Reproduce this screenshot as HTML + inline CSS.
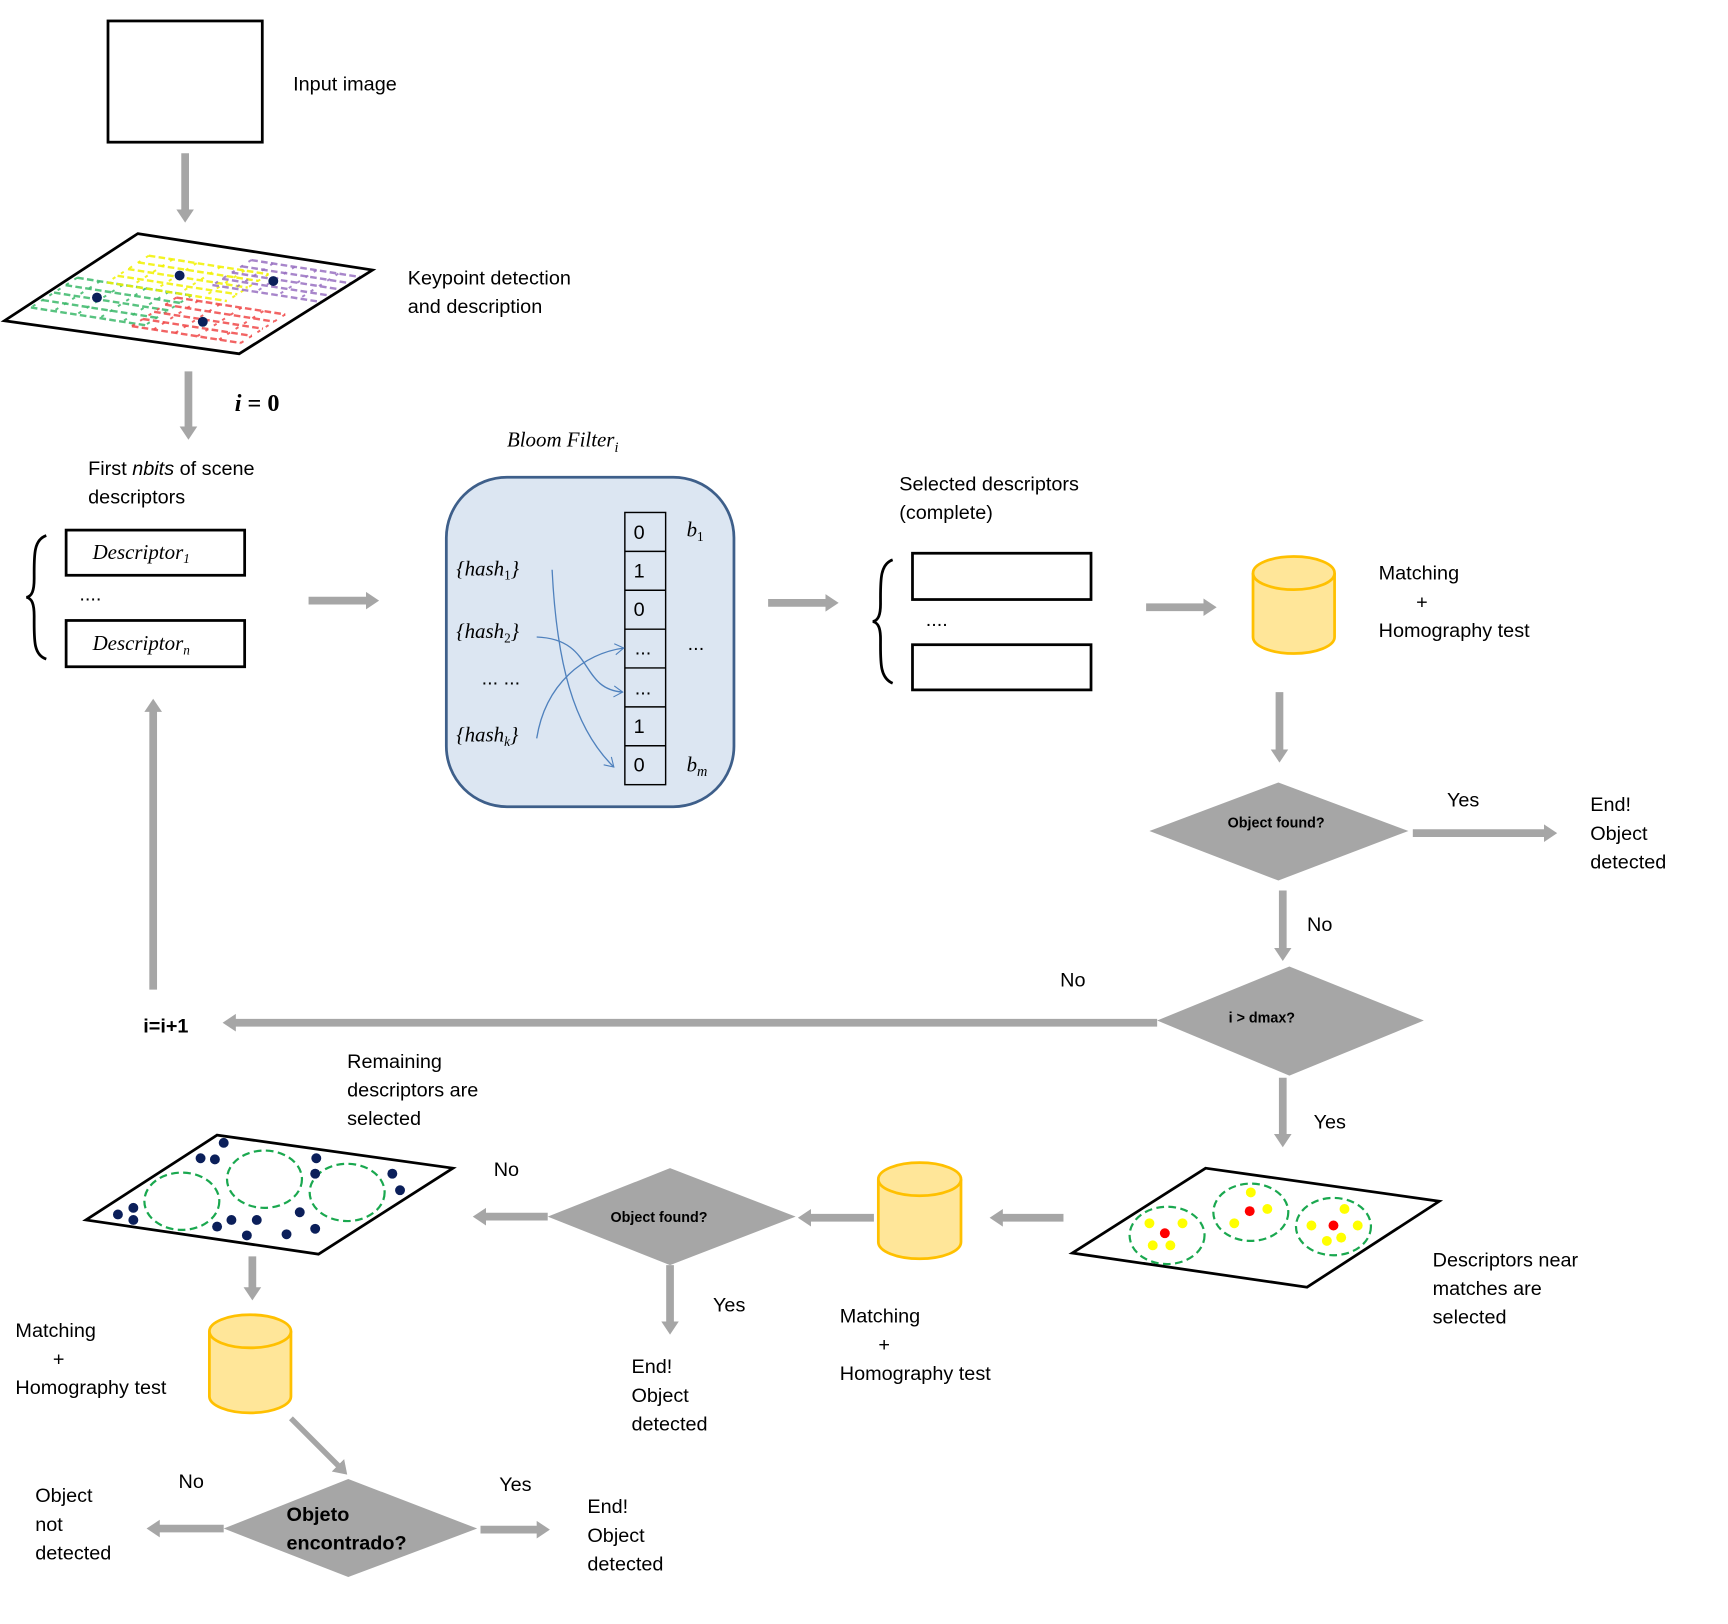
<!DOCTYPE html>
<html><head><meta charset="utf-8"><style>
html,body{margin:0;padding:0;background:#fff;}
svg{display:block;}
text{font-family:"Liberation Sans",sans-serif;font-size:18px;fill:#000;}
.m{font-family:"Liberation Serif",serif;font-style:italic;font-size:19px;}
.d{font-weight:bold;font-size:13px;}
</style></head><body>
<svg id="s" width="1728" height="1624" viewBox="0 0 1568 1473.6" xmlns="http://www.w3.org/2000/svg">
<defs>
<marker id="ah" markerUnits="userSpaceOnUse" markerWidth="18" markerHeight="18" refX="2" refY="9" orient="auto">
<path d="M0,1 L12,9 L0,17 Z" fill="#a6a6a6"/>
</marker>
<marker id="bh" markerUnits="userSpaceOnUse" markerWidth="12" markerHeight="12" refX="10" refY="6" orient="auto">
<path d="M2,1 L10,6 L2,11" fill="none" stroke="#4f81bd" stroke-width="1"/>
</marker>
</defs>
<g stroke="#a6a6a6" stroke-width="7" fill="none" marker-end="url(#ah)">
<line x1="168" y1="139" x2="168" y2="192"/>
<line x1="171" y1="337" x2="171" y2="389"/>
<line x1="280" y1="545" x2="334" y2="545"/>
<line x1="697" y1="547" x2="751" y2="547"/>
<line x1="1040" y1="551" x2="1094" y2="551"/>
<line x1="1161" y1="628" x2="1161" y2="682"/>
<line x1="1282" y1="756" x2="1403" y2="756"/>
<line x1="1164" y1="808" x2="1164" y2="862"/>
<line x1="1050" y1="928" x2="212" y2="928"/>
<line x1="139" y1="898" x2="139" y2="644"/>
<line x1="1164" y1="978" x2="1164" y2="1031"/>
<line x1="965" y1="1105" x2="908" y2="1105"/>
<line x1="793" y1="1105" x2="734" y2="1105"/>
<line x1="608" y1="1148" x2="608" y2="1201"/>
<line x1="497" y1="1104" x2="439" y2="1104"/>
<line x1="229" y1="1140" x2="229" y2="1170"/>
<line x1="264" y1="1287" x2="308" y2="1331" stroke-width="5"/>
<line x1="203" y1="1387" x2="143" y2="1387"/>
<line x1="436" y1="1388" x2="489" y2="1388"/>
</g>
<rect x="98" y="19" width="140" height="110" fill="none" stroke="#000" stroke-width="2.5"/>
<text x="266" y="82">Input image</text>
<g id="grid"></g>
<polygon points="125,212 338,245 217,321 4,291" fill="none" stroke="#000" stroke-width="2.5"/>
<g fill="#0b1f5a"><circle cx="88" cy="270" r="4.5"/><circle cx="163" cy="250" r="4.5"/><circle cx="248" cy="255" r="4.5"/><circle cx="184" cy="292" r="4.5"/></g>
<text x="370" y="258">Keypoint detection</text>
<text x="370" y="284">and description</text>
<text x="213" y="373" style="font-family:'Liberation Serif',serif;font-weight:bold;font-size:22px"><tspan font-style="italic">i</tspan> = 0</text>
<text x="80" y="431">First <tspan font-style="italic">nbits</tspan> of scene</text>
<text x="80" y="457">descriptors</text>
<path d="M42,486 C30,490 31,505 31,525 C31,536 29,541 24,542 C29,543 31,548 31,559 C31,580 30,594 42,598" fill="none" stroke="#000" stroke-width="2.5"/>
<rect x="60" y="481" width="162" height="41" fill="none" stroke="#000" stroke-width="2.5"/>
<rect x="60" y="563" width="162" height="42" fill="none" stroke="#000" stroke-width="2.5"/>
<text class="m" x="84" y="507">Descriptor<tspan font-size="12" dy="4">1</tspan></text>
<text class="m" x="84" y="590">Descriptor<tspan font-size="12" dy="4">n</tspan></text>
<text x="72" y="545">....</text>
<text class="m" x="460" y="405">Bloom Filter<tspan font-size="13" dy="5">i</tspan></text>
<rect x="405" y="433" width="261" height="299" rx="55" fill="#dce6f2" stroke="#3e5f8a" stroke-width="2.5"/>
<g fill="none" stroke="#000" stroke-width="1.3">
<rect x="567" y="465" width="37" height="247"/>
<line x1="567" y1="500.3" x2="604" y2="500.3"/><line x1="567" y1="535.6" x2="604" y2="535.6"/>
<line x1="567" y1="570.9" x2="604" y2="570.9"/><line x1="567" y1="606.1" x2="604" y2="606.1"/>
<line x1="567" y1="641.4" x2="604" y2="641.4"/><line x1="567" y1="676.7" x2="604" y2="676.7"/>
</g>
<g font-size="17"><text x="575" y="489">0</text><text x="575" y="524">1</text><text x="575" y="559">0</text><text x="576" y="594">...</text><text x="576" y="630">...</text><text x="575" y="665">1</text><text x="575" y="700">0</text></g>
<text class="m" x="623" y="487">b<tspan font-size="12" dy="4" font-style="normal">1</tspan></text>
<text x="624" y="590">...</text>
<text class="m" x="623" y="700">b<tspan font-size="13" dy="4">m</tspan></text>
<text class="m" x="414" y="522">{hash<tspan font-size="12" dy="4" font-style="normal">1</tspan><tspan dy="-4">}</tspan></text>
<text class="m" x="414" y="579">{hash<tspan font-size="12" dy="4" font-style="normal">2</tspan><tspan dy="-4">}</tspan></text>
<text x="437" y="621">... ...</text>
<text class="m" x="414" y="673">{hash<tspan font-size="12" dy="4">k</tspan><tspan dy="-4">}</tspan></text>
<g fill="none" stroke="#4f81bd" stroke-width="1.2" marker-end="url(#bh)">
<path d="M501,517 C505,600 520,660 557,696"/>
<path d="M487,578 C540,580 525,625 565,628"/>
<path d="M487,670 C495,620 530,593 566,588"/>
</g>
<text x="816" y="445">Selected descriptors</text>
<text x="816" y="471">(complete)</text>
<path d="M810,508 C798,512 799,528 799,548 C799,558 797,563 792,564 C797,565 799,570 799,580 C799,600 798,615 810,620" fill="none" stroke="#000" stroke-width="2.5"/>
<rect x="828" y="502" width="162" height="42" fill="none" stroke="#000" stroke-width="2.5"/>
<rect x="828" y="585" width="162" height="41" fill="none" stroke="#000" stroke-width="2.5"/>
<text x="840" y="568">....</text>
<g fill="#ffe699" stroke="#ffc000" stroke-width="2.5">
<path d="M1137,520 L1137,578 A37,15 0 0 0 1211,578 L1211,520"/><ellipse cx="1174" cy="520" rx="37" ry="15"/>
<path d="M797,1070 L797,1127 A37,15 0 0 0 872,1127 L872,1070"/><ellipse cx="834.5" cy="1070" rx="37.5" ry="15"/>
<path d="M190,1208 L190,1267 A37,15 0 0 0 264,1267 L264,1208"/><ellipse cx="227" cy="1208" rx="37" ry="15"/>
</g>
<text x="1251" y="526">Matching</text><text x="1285" y="552">+</text><text x="1251" y="578">Homography test</text>
<polygon points="1043,754 1160,710 1278,754 1160,799" fill="#a6a6a6"/>
<text class="d" x="1158" y="751" text-anchor="middle">Object found?</text>
<text x="1313" y="732">Yes</text>
<text x="1443" y="736">End!</text><text x="1443" y="762">Object</text><text x="1443" y="788">detected</text>
<text x="1186" y="845">No</text>
<polygon points="1050,926 1170,877 1292,926 1170,976" fill="#a6a6a6"/>
<text class="d" x="1145" y="928" text-anchor="middle">i &gt; dmax?</text>
<text x="962" y="895">No</text>
<text x="130" y="937" font-weight="bold">i=i+1</text>
<text x="1192" y="1024">Yes</text>
<polygon points="1094,1060 1306,1090 1186,1168 973,1137" fill="none" stroke="#000" stroke-width="2.5"/>
<g fill="none" stroke="#1aa84f" stroke-width="2" stroke-dasharray="7,4">
<ellipse cx="1059" cy="1121" rx="34" ry="26"/><ellipse cx="1135" cy="1100" rx="34" ry="26"/><ellipse cx="1210" cy="1113" rx="34" ry="26"/>
</g>
<g fill="#ffff00">
<circle cx="1043" cy="1110" r="4.5"/><circle cx="1073" cy="1110" r="4.5"/><circle cx="1046" cy="1130" r="4.5"/><circle cx="1062" cy="1130" r="4.5"/>
<circle cx="1135" cy="1082" r="4.5"/><circle cx="1150" cy="1097" r="4.5"/><circle cx="1120" cy="1110" r="4.5"/>
<circle cx="1220" cy="1097" r="4.5"/><circle cx="1190" cy="1112" r="4.5"/><circle cx="1232" cy="1112" r="4.5"/><circle cx="1204" cy="1126" r="4.5"/><circle cx="1217" cy="1123" r="4.5"/>
</g>
<g fill="#ff0000"><circle cx="1057" cy="1119" r="4.5"/><circle cx="1134" cy="1099" r="4.5"/><circle cx="1210" cy="1112" r="4.5"/></g>
<text x="1300" y="1149">Descriptors near</text><text x="1300" y="1175">matches are</text><text x="1300" y="1201">selected</text>
<text x="762" y="1200">Matching</text><text x="797" y="1226">+</text><text x="762" y="1252">Homography test</text>
<polygon points="497,1104 608,1060 722,1104 608,1148" fill="#a6a6a6"/>
<text class="d" x="598" y="1109" text-anchor="middle">Object found?</text>
<text x="647" y="1190">Yes</text>
<text x="573" y="1246">End!</text><text x="573" y="1272">Object</text><text x="573" y="1298">detected</text>
<text x="448" y="1067">No</text>
<text x="315" y="969">Remaining</text><text x="315" y="995">descriptors are</text><text x="315" y="1021">selected</text>
<polygon points="197,1030 411,1060 289,1138 78,1107" fill="none" stroke="#000" stroke-width="2.5"/>
<g fill="none" stroke="#1aa84f" stroke-width="2" stroke-dasharray="7,4">
<ellipse cx="165" cy="1090" rx="34" ry="26"/><ellipse cx="240" cy="1070" rx="34" ry="26"/><ellipse cx="315" cy="1082" rx="34" ry="26"/>
</g>
<g fill="#0b1f5a">
<circle cx="203" cy="1037" r="4.5"/><circle cx="182" cy="1051" r="4.5"/><circle cx="195" cy="1052" r="4.5"/><circle cx="287" cy="1051" r="4.5"/><circle cx="286" cy="1065" r="4.5"/><circle cx="356" cy="1065" r="4.5"/><circle cx="363" cy="1080" r="4.5"/><circle cx="107" cy="1102" r="4.5"/><circle cx="121" cy="1096" r="4.5"/><circle cx="121" cy="1107" r="4.5"/><circle cx="210" cy="1107" r="4.5"/><circle cx="233" cy="1107" r="4.5"/><circle cx="197" cy="1113" r="4.5"/><circle cx="224" cy="1121" r="4.5"/><circle cx="260" cy="1120" r="4.5"/><circle cx="272" cy="1100" r="4.5"/><circle cx="286" cy="1115" r="4.5"/>
</g>
<text x="14" y="1213">Matching</text><text x="48" y="1239">+</text><text x="14" y="1265">Homography test</text>
<polygon points="203,1387 316,1342 433,1387 316,1431" fill="#a6a6a6"/>
<text x="260" y="1380" font-weight="bold" font-size="18">Objeto</text>
<text x="260" y="1406" font-weight="bold" font-size="18">encontrado?</text>
<text x="162" y="1350">No</text>
<text x="32" y="1363">Object</text><text x="32" y="1389">not</text><text x="32" y="1415">detected</text>
<text x="453" y="1353">Yes</text>
<text x="533" y="1373">End!</text><text x="533" y="1399">Object</text><text x="533" y="1425">detected</text>
</svg>
<script>
(function(){
var g=document.getElementById('grid');var ns='http://www.w3.org/2000/svg';
var P=[[70,252,105,50,'#3cb96b'],[135,232,110,45,'#f2f200'],[228,236,100,42,'#9a72c2'],[160,270,100,48,'#f04a4a']];
var ux=0.988,uy=0.153,vx=-0.84,vy=0.54;
P.forEach(function(p){var ox=p[0],oy=p[1],L=p[2],M=p[3],c=p[4];
for(var i=0;i<=4;i++){var t=M*i/4;var x1=ox+vx*t,y1=oy+vy*t;
var l=document.createElementNS(ns,'line');l.setAttribute('x1',x1);l.setAttribute('y1',y1);l.setAttribute('x2',x1+ux*L);l.setAttribute('y2',y1+uy*L);
l.setAttribute('stroke',c);l.setAttribute('stroke-width','2.2');l.setAttribute('stroke-dasharray','6,3');l.setAttribute('opacity','0.85');g.appendChild(l);}
for(var j=0;j<=5;j++){var s=L*j/5;var x1=ox+ux*s,y1=oy+uy*s;
var l=document.createElementNS(ns,'line');l.setAttribute('x1',x1);l.setAttribute('y1',y1);l.setAttribute('x2',x1+vx*M);l.setAttribute('y2',y1+vy*M);
l.setAttribute('stroke',c);l.setAttribute('stroke-width','1.8');l.setAttribute('stroke-dasharray','3,6');l.setAttribute('opacity','0.85');g.appendChild(l);}
});})();
</script>
</body></html>
